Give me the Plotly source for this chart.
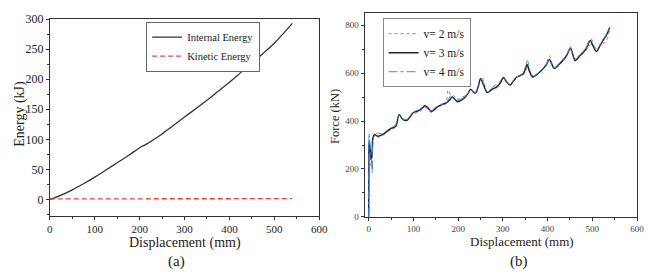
import plotly.graph_objects as go

# ---- (a) Energy vs displacement ----
disp_e = [0, 10, 25, 50, 75, 100, 125, 150, 175, 200, 215, 230, 250, 275, 300, 325, 350, 375, 400, 425, 450, 475, 500, 520, 540]
internal_e = [0, 2.5, 7, 16, 26, 37, 49, 61, 73, 86, 92, 99, 109, 123, 137, 151, 165, 180, 195, 211, 227, 243, 260, 276, 293]
disp_k = [0, 10, 100, 200, 300, 400, 500, 540]
kinetic_e = [0, 1, 1, 1, 1, 1.2, 1.2, 1.2]

# ---- (b) Force vs displacement ----
d3 = [0, 0.5, 1, 3, 6, 8, 9.5, 13, 20, 31, 40, 50, 60, 68, 74, 79, 86, 95, 101, 112, 120, 126, 134, 141, 148, 155, 165, 174, 181, 187, 193, 199, 207, 214, 222, 228, 234, 239, 245, 250, 257, 265, 276, 287, 295, 301, 308, 316, 324, 331, 338, 345, 350, 354, 360, 367, 378, 389, 397, 404, 410, 415, 424, 433, 443, 451, 456, 462, 473, 484, 490, 495, 502, 509, 517, 524, 531, 539]
f3 = [0, 200, 317, 290, 237, 280, 330, 344, 337, 344, 356, 370, 377, 427, 412, 404, 404, 425, 437, 444, 455, 464, 452, 440, 451, 461, 470, 477, 488, 501, 490, 481, 488, 497, 515, 533, 522, 517, 545, 577, 550, 520, 533, 544, 562, 581, 565, 551, 568, 584, 590, 597, 615, 637, 605, 584, 598, 617, 635, 657, 635, 620, 634, 651, 676, 704, 680, 653, 675, 697, 717, 737, 712, 691, 715, 737, 757, 791]

d2 = [0, 0.5, 1, 3, 6, 8, 9.5, 13, 20, 31, 40, 50, 60, 68, 74, 79, 86, 95, 101, 112, 120, 126, 134, 141, 148, 155, 165, 172, 178, 184, 190, 199, 207, 214, 222, 228, 234, 239, 245, 253, 259, 265, 276, 287, 295, 301, 308, 316, 324, 331, 338, 345, 350, 355, 361, 367, 378, 389, 397, 404, 410, 415, 424, 433, 443, 451, 456, 462, 473, 484, 490, 497, 504, 511, 517, 524, 531, 539]
f2 = [0, 180, 300, 270, 200, 250, 320, 338, 333, 340, 352, 365, 375, 422, 410, 403, 402, 420, 432, 437, 450, 458, 444, 436, 448, 458, 466, 470, 530, 505, 495, 490, 497, 505, 515, 528, 520, 515, 540, 585, 555, 522, 530, 540, 560, 584, 566, 550, 565, 580, 588, 592, 605, 625, 600, 582, 596, 615, 640, 673, 640, 618, 630, 648, 675, 712, 682, 655, 672, 690, 705, 720, 712, 700, 712, 725, 735, 780]

d4 = [0, 0.5, 1, 3, 6, 8, 9.5, 13, 20, 31, 40, 50, 60, 68, 74, 79, 86, 95, 101, 112, 120, 126, 134, 141, 148, 155, 165, 174, 181, 187, 193, 199, 207, 214, 222, 228, 234, 239, 245, 252, 259, 265, 276, 287, 295, 301, 308, 316, 324, 331, 338, 345, 350, 355, 361, 367, 378, 389, 397, 404, 410, 415, 424, 433, 443, 451, 456, 462, 473, 484, 490, 497, 503, 509, 517, 524, 531, 539]
f4 = [0, 220, 348, 300, 240, 183, 300, 340, 350, 347, 360, 372, 385, 425, 412, 407, 408, 428, 440, 447, 457, 460, 450, 444, 456, 463, 472, 478, 500, 510, 500, 488, 492, 500, 518, 530, 524, 520, 548, 575, 548, 523, 540, 555, 568, 578, 562, 555, 572, 585, 592, 600, 625, 652, 610, 588, 600, 620, 638, 660, 632, 622, 638, 655, 680, 705, 675, 660, 680, 700, 725, 745, 718, 695, 720, 742, 762, 795]

x_ticks = [0, 100, 200, 300, 400, 500, 600]
e_ticks = [0, 50, 100, 150, 200, 250, 300]
f_ticks = [0, 200, 400, 600, 800]

SERIF = "Times New Roman, Liberation Serif, DejaVu Serif, serif"

fig = go.Figure()
fig.add_trace(go.Scatter(x=disp_e, y=internal_e, mode="lines", name="Internal Energy",
                         line=dict(color="#333333", width=1.3, shape="spline"),
                         xaxis="x", yaxis="y", legend="legend"))
fig.add_trace(go.Scatter(x=disp_k, y=kinetic_e, mode="lines", name="Kinetic Energy",
                         line=dict(color="#ff3b3b", width=1.3, dash="5px,3px"),
                         xaxis="x", yaxis="y", legend="legend"))

fig.add_trace(go.Scatter(x=d2, y=f2, mode="lines", name="v= 2 m/s",
                         line=dict(color="#ff5a5a", width=1, dash="dot", shape="spline"),
                         xaxis="x2", yaxis="y2", legend="legend2"))
fig.add_trace(go.Scatter(x=d3, y=f3, mode="lines", name="v= 3 m/s",
                         line=dict(color="#222222", width=1.4, shape="spline"),
                         xaxis="x2", yaxis="y2", legend="legend2"))
fig.add_trace(go.Scatter(x=d4, y=f4, mode="lines", name="v= 4 m/s",
                         line=dict(color="#3b8bf0", width=1, dash="dashdot", shape="spline"),
                         xaxis="x2", yaxis="y2", legend="legend2"))

axis_common = dict(showgrid=False, zeroline=False, showline=True, linecolor="#333333", linewidth=1,
                   mirror=True, ticks="outside", ticklen=3, tickcolor="#333333",
                   minor=dict(ticks="outside", ticklen=2, tickcolor="#333333"))

def ann(text, x, y, size, angle=0):
    return dict(text=text, x=x, y=y, xref="paper", yref="paper", textangle=angle,
                xanchor="center", yanchor="middle", showarrow=False,
                font=dict(size=size, family=SERIF, color="#222222"))

fig.update_layout(
    width=663, height=279,
    margin=dict(l=0, r=0, t=0, b=0),
    paper_bgcolor="white", plot_bgcolor="white",
    font=dict(family=SERIF, color="#222222"),
    xaxis=dict(domain=[0.072, 0.4857], range=[0, 600], tickvals=x_ticks,
               tickfont=dict(size=11, family=SERIF), anchor="y", minor_dtick=50, **axis_common),
    yaxis=dict(domain=[0.2186, 0.9545], range=[-27, 300], tickvals=e_ticks,
               tickfont=dict(size=12, family=SERIF), anchor="x", minor_dtick=25, **axis_common),
    xaxis2=dict(domain=[0.5555, 0.974], range=[-9, 600], tickvals=x_ticks,
                tickfont=dict(size=9, color="#444444", family=SERIF), anchor="y2", minor_dtick=50, **axis_common),
    yaxis2=dict(domain=[0.214, 0.978], range=[0, 852], tickvals=f_ticks,
                tickfont=dict(size=9, color="#444444", family=SERIF), anchor="x2", minor_dtick=100, **axis_common),
    legend=dict(x=0.395, y=0.945, xanchor="right", yanchor="top", bgcolor="white",
                bordercolor="#666666", borderwidth=1, font=dict(size=10.5, family=SERIF),
                tracegroupgap=0, itemwidth=30),
    legend2=dict(x=0.583, y=0.958, xanchor="left", yanchor="top", bgcolor="white",
                 bordercolor="#888888", borderwidth=1, font=dict(size=11.5, family=SERIF),
                 tracegroupgap=0, itemwidth=30),
    annotations=[
        ann("Energy (kJ)", 0.026, 0.6, 14, -90),
        ann("Displacement (mm)", 0.279, 0.115, 14),
        ann("(a)", 0.267, 0.045, 15),
        ann("Force (kN)", 0.51, 0.588, 12.5, -90),
        ann("Displacement (mm)", 0.798, 0.12, 13),
        ann("(b)", 0.792, 0.047, 15),
    ],
)

fig.write_html("out.html", config={"displayModeBar": False},
               post_script="document.body.style.margin='0';")
